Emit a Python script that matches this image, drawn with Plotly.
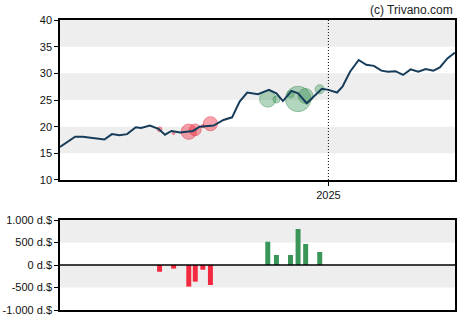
import plotly.graph_objects as go

# Share price (weekly-ish closes)
price_dates = [
    "2024-04-28", "2024-05-05", "2024-05-12", "2024-05-19", "2024-06-08", "2024-06-15",
    "2024-06-22", "2024-06-29", "2024-07-07", "2024-07-12", "2024-07-20", "2024-07-28",
    "2024-08-03", "2024-08-09", "2024-08-17", "2024-08-29", "2024-09-04", "2024-09-17",
    "2024-09-26", "2024-10-04", "2024-10-11", "2024-10-18", "2024-10-28", "2024-11-07",
    "2024-11-14", "2024-11-20", "2024-11-28", "2024-12-04", "2024-12-12", "2024-12-26",
    "2025-01-01", "2025-01-09", "2025-01-14", "2025-01-21", "2025-01-29", "2025-02-05",
    "2025-02-12", "2025-02-19", "2025-02-25", "2025-03-04", "2025-03-11", "2025-03-18",
    "2025-03-25", "2025-04-01", "2025-04-08", "2025-04-14", "2025-04-21", "2025-04-28",
]
price_close = [
    16.2, 17.2, 18.1, 18.1, 17.6, 18.6,
    18.4, 18.6, 19.9, 19.75, 20.2, 19.6,
    18.5, 19.2, 18.9, 19.2, 20.0, 20.2,
    21.25, 21.75, 24.7, 26.4, 26.1, 26.9,
    26.25, 24.8, 26.7, 26.25, 24.4, 27.1,
    26.9, 26.4, 27.5, 30.3, 32.5, 31.6,
    31.4, 30.5, 30.3, 30.4, 29.7, 30.75,
    30.3, 30.8, 30.5, 31.1, 32.8, 33.9,
]

# Insider transactions (thousand dollars; negative = sales)
sell_dates = ["2024-07-29", "2024-08-11", "2024-08-25", "2024-08-31", "2024-09-07", "2024-09-14"]
sell_value = [-150, -80, -480, -370, -105, -445]
sell_price = [19.5, 18.75, 19.05, 19.4, 20.1, 20.55]

buy_dates = ["2024-11-06", "2024-11-14", "2024-11-27", "2024-12-04", "2024-12-11", "2024-12-24"]
buy_value = [518, 222, 222, 800, 467, 289]
buy_price = [25.2, 25.1, 26.1, 25.2, 25.75, 27.0]

price_ticks = [10, 15, 20, 25, 30, 35, 40]
flow_ticks = [-1000, -500, 0, 500, 1000]
flow_labels = ["-1.000 d.$", "-500 d.$", "0 d.$", "500 d.$", "1.000 d.$"]

LINE = "#173c5a"
RED = "#f2293f"
GREEN = "#3a9558"
BAND = "#eeeeee"
FONT = "Liberation Sans, Arial, sans-serif"

fig = go.Figure()

# transaction bubbles on the price panel
fig.add_trace(go.Scatter(
    x=sell_dates, y=sell_price, mode="markers",
    marker=dict(size=[abs(v) / 31.5 for v in sell_value], sizemode="diameter",
                color="rgba(240,40,60,0.6)", line=dict(color="rgba(225,30,50,0.7)", width=1)),
    xaxis="x", yaxis="y",
))
fig.add_trace(go.Scatter(
    x=buy_dates, y=buy_price, mode="markers",
    marker=dict(size=[abs(v) / 31.5 for v in buy_value], sizemode="diameter",
                color="rgba(58,149,88,0.55)", line=dict(color="rgba(50,140,80,0.7)", width=1)),
    xaxis="x", yaxis="y",
))
# price line drawn over the bubbles
fig.add_trace(go.Scatter(
    x=price_dates, y=price_close, mode="lines",
    line=dict(color=LINE, width=2), xaxis="x", yaxis="y", hoverinfo="skip",
))
fig.add_trace(go.Bar(
    x=sell_dates, y=sell_value, marker=dict(color=RED, line=dict(width=0)),
    width=4.6 * 86400000, xaxis="x2", yaxis="y2",
))
fig.add_trace(go.Bar(
    x=buy_dates, y=buy_value, marker=dict(color=GREEN, line=dict(width=0)),
    width=4.6 * 86400000, xaxis="x2", yaxis="y2",
))

shapes = []
# alternating grey bands on the price panel
for lo, hi in [(15, 20), (25, 30), (35, 40)]:
    shapes.append(dict(type="rect", xref="x domain", yref="y", x0=0, x1=1, y0=lo, y1=hi,
                       fillcolor=BAND, line=dict(width=0), layer="below"))
# bands on the transaction panel
for lo, hi in [(500, 1000), (-500, 0)]:
    shapes.append(dict(type="rect", xref="x2 domain", yref="y2", x0=0, x1=1, y0=lo, y1=hi,
                       fillcolor=BAND, line=dict(width=0), layer="below"))
# zero line on the transaction panel
shapes.append(dict(type="line", xref="x2 domain", yref="y2", x0=0, x1=1, y0=0, y1=0,
                   line=dict(color="black", width=1.5)))
# year boundary
shapes.append(dict(type="line", xref="x", yref="y domain", x0="2025-01-01", x1="2025-01-01",
                   y0=0, y1=1, line=dict(color="black", width=1, dash="1px,2px")))

xrange = ["2024-04-28", "2025-04-28"]
axis_common = dict(showline=True, linecolor="black", linewidth=1.5, mirror=True,
                   showgrid=False, zeroline=False, ticks="outside", ticklen=4,
                   tickcolor="black", automargin=False,
                   tickfont=dict(family=FONT, size=11, color="#111"))

fig.update_layout(
    width=470, height=325,
    margin=dict(l=60, r=15, t=20, b=15),
    paper_bgcolor="white", plot_bgcolor="white",
    showlegend=False, barmode="overlay",
    font=dict(family=FONT, size=11, color="#111"),
    shapes=shapes,
    xaxis=dict(domain=[0, 1], anchor="y", type="date", range=xrange,
               tickvals=["2025-01-01"], ticktext=["2025"], **axis_common),
    yaxis=dict(domain=[0.4483, 1], anchor="x", range=[10, 40], tickvals=price_ticks,
               **axis_common),
    xaxis2=dict(domain=[0, 1], anchor="y2", type="date", range=xrange,
                showticklabels=False, **{k: v for k, v in axis_common.items() if k != "ticks"},
                ticks=""),
    yaxis2=dict(domain=[0, 0.3103], anchor="x2", range=[-1000, 1000],
                tickvals=flow_ticks, ticktext=flow_labels, **axis_common),
    annotations=[dict(text="(c) Trivano.com", xref="paper", yref="paper", x=1, y=1,
                      xanchor="right", yanchor="bottom", yshift=1, showarrow=False,
                      font=dict(family=FONT, size=12, color="#222"))],
)

fig.write_html("out.html")
